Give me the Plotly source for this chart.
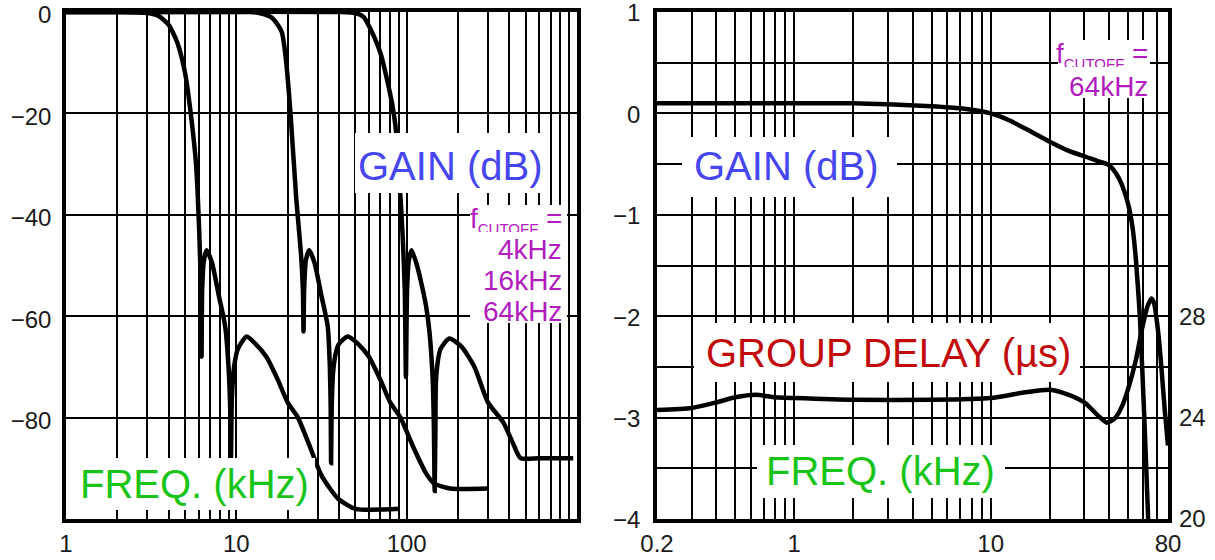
import math
import plotly.graph_objects as go

# ---------------- data ----------------
# Left panel: gain (dB) vs frequency (kHz) for three cutoff settings
f_4k = [1, 2, 3, 3.5, 4, 4.5, 5, 5.4, 5.8, 6.05, 6.2, 6.25, 6.3, 6.45, 6.7, 7.2, 7.9,
        8.6, 9.0, 9.2, 9.3, 9.42, 9.7, 10.2, 11.5, 13, 15, 17.5, 20, 23, 26.5, 31.7,
        39.6, 50, 91]
g_4k = [0, 0, -0.2, -0.8, -2.5, -6, -12, -20, -30, -43, -55, -68, -55, -49, -47, -49.5, -56,
        -62, -70, -78, -88, -76, -70, -66.5, -64, -65.5, -68, -72.5, -77, -80, -85, -91.5,
        -96, -98, -98]

f_16k = [1, 10, 12, 14, 16, 17.5, 18.5, 19.5, 20.8, 22.5, 24, 24.6, 24.8, 25.0, 25.6, 26.8,
         28.8, 31.6, 34.4, 35.4, 35.8, 36, 36.3, 37, 38.5, 40, 45, 52, 60, 70, 80, 92, 110,
         130, 145, 180, 300]
g_16k = [0, 0, 0, -0.3, -1, -2.5, -4, -9, -20, -37, -48, -55, -63, -55, -49, -47,
         -49.5, -56, -62, -70, -78, -89, -78, -71, -67, -65.5, -64, -65.5, -68, -72.5, -77, -80, -86,
         -91, -93, -94, -94]

f_64k = [1, 40, 50, 56, 61.6, 70, 77.5, 82, 86, 91.6, 95, 97.5, 99, 100.5, 103, 107, 115, 121,
         130, 136, 142, 144.5, 146, 147.5, 149, 158, 178, 210, 250, 300, 370, 420, 466, 600, 950]
g_64k = [0, 0, -0.2, -1, -3.5, -8, -14, -18, -22.6, -35.6, -45, -55, -72, -55, -49, -47, -50, -53,
         -58, -63, -72, -82, -94.5, -82, -72, -66.5, -64.4, -66, -70, -77, -81, -85, -88, -88, -88]

# Right panel: gain (dB) and group delay (us) vs frequency (kHz), fcutoff = 64kHz
f_gain = [0.2, 0.5, 1, 2, 3, 5, 7, 10, 12.5, 15, 20, 25, 30.7, 35, 39.2, 42, 45, 48, 50.8,
          53, 55, 57.5, 60.6, 63.4]
gain = [0.1, 0.1, 0.1, 0.1, 0.09, 0.07, 0.05, 0.0, -0.07, -0.15, -0.28, -0.37, -0.43, -0.47,
        -0.5, -0.55, -0.64, -0.77, -0.94, -1.15, -1.46, -2.0, -3.0, -4.0]

f_delay = [0.2, 0.3, 0.4, 0.5, 0.64, 0.8, 1, 2, 5, 10, 15, 20, 25, 30, 35, 39, 43, 47, 50,
           55, 59, 63, 66, 68, 71, 74, 77, 80]
delay = [24.3, 24.38, 24.6, 24.8, 24.9, 24.8, 24.77, 24.7, 24.7, 24.77, 25.0, 25.1, 24.9, 24.6,
         24.1, 23.8, 23.98, 24.5, 25.1, 26.3, 27.5, 28.4, 28.7, 28.5, 27.5, 26.0, 24.3, 22.9]

# Axis ticks
left_x_grid = [1, 2, 3, 4, 5, 6, 7, 8, 9, 10, 20, 30, 40, 50, 60, 70, 80, 90,
               100, 200, 300, 400, 500, 600, 700, 800, 900]
left_x_labels = {1: "1", 10: "10", 100: "100"}
left_y_ticks = [0, -20, -40, -60, -80]
right_x_grid = [0.2, 0.3, 0.4, 0.5, 0.6, 0.7, 0.8, 0.9, 1, 2, 3, 4, 5, 6, 7, 8, 9,
                10, 20, 30, 40, 50, 60, 70, 80]
right_x_labels = {0.2: "0.2", 1: "1", 10: "10", 80: "80"}
right_y_grid = [1, 0.5, 0, -0.5, -1, -1.5, -2, -2.5, -3, -3.5, -4]
right_y_labels = {1: "1", 0: "0", -1: "−1", -2: "−2", -3: "−3", -4: "−4"}
delay_ticks = [20, 24, 28]

# ---------------- styling ----------------
FONT = "Liberation Sans, Arial, Helvetica, sans-serif"
BLUE, GREEN, RED, MAG = "#4646f0", "#18c418", "#c20a0a", "#b21cbe"
W, H = 1215, 560
ML, MR, MT, MB = 66, 47, 12, 41
PW = W - ML - MR
PANEL_W = 511
PH = H - MT - MB
LX0, RX0 = 66, 657

line = dict(color="black", width=4.5, shape="spline", smoothing=0.6)

fig = go.Figure()
fig.add_trace(go.Scatter(x=f_4k, y=g_4k, mode="lines", line=line, xaxis="x", yaxis="y"))
fig.add_trace(go.Scatter(x=f_16k, y=g_16k, mode="lines", line=line, xaxis="x", yaxis="y"))
fig.add_trace(go.Scatter(x=f_64k, y=g_64k, mode="lines", line=line, xaxis="x", yaxis="y"))
fig.add_trace(go.Scatter(x=f_gain, y=gain, mode="lines", line=line, xaxis="x2", yaxis="y2"))
fig.add_trace(go.Scatter(x=f_delay, y=delay, mode="lines", line=line, xaxis="x2", yaxis="y3"))

tickfont = dict(family=FONT, size=24, color="#1a1a1a")
axis_common = dict(showgrid=True, gridcolor="black", gridwidth=2.2, showline=True,
                   linecolor="black", linewidth=3.5, mirror=True, ticks="", zeroline=False,
                   automargin=False, ticklabeloverflow="allow", tickfont=tickfont)

fig.update_layout(
    width=W, height=H, showlegend=False,
    paper_bgcolor="white", plot_bgcolor="white",
    margin=dict(l=ML, r=MR, t=MT, b=MB, autoexpand=False),
    xaxis=dict(type="log", range=[0, 3], domain=[0, PANEL_W / PW], anchor="y",
               tickvals=left_x_grid, ticktext=[left_x_labels.get(v, "") for v in left_x_grid],
               ticklabelstandoff=0, **axis_common),
    yaxis=dict(range=[-100, 0], anchor="x", tickvals=left_y_ticks, ticklabelstandoff=6,
               ticklabelshift=3, **axis_common),
    xaxis2=dict(type="log", range=[math.log10(0.2), math.log10(80)],
                domain=[(RX0 - ML) / PW, 1], anchor="y2",
                tickvals=right_x_grid, ticktext=[right_x_labels.get(v, "") for v in right_x_grid],
                ticklabelstandoff=0, **axis_common),
    yaxis2=dict(range=[-4, 1], anchor="x2", tickvals=right_y_grid,
                ticktext=[right_y_labels.get(v, "") for v in right_y_grid],
                ticklabelstandoff=8, ticklabelshift=1, **axis_common),
    yaxis3=dict(range=[20, 40], overlaying="y2", anchor="x2", side="right",
                tickvals=delay_ticks, showgrid=False, showline=False, zeroline=False,
                ticks="", ticklabelstandoff=10, automargin=False,
                ticklabeloverflow="allow", tickfont=tickfont),
)

def fx(px, x0):
    return (px - x0) / PANEL_W

def fy(py):
    return (MT + PH - py) / PH

def box(panel, x0, x1, y0, y1):
    x0p = LX0 if panel == 1 else RX0
    xr = "x domain" if panel == 1 else "x2 domain"
    yr = "y domain" if panel == 1 else "y2 domain"
    fig.add_shape(type="rect", xref=xr, yref=yr, x0=fx(x0, x0p), x1=fx(x1, x0p),
                  y0=fy(y1), y1=fy(y0), fillcolor="white", line=dict(width=0), layer="above")

def label(panel, text, px, py, color, size, xanchor="center", height=None):
    x0p = LX0 if panel == 1 else RX0
    xr = "x domain" if panel == 1 else "x2 domain"
    yr = "y domain" if panel == 1 else "y2 domain"
    kw = {}
    if height:
        kw["height"] = height
    fig.add_annotation(xref=xr, yref=yr, x=fx(px, x0p), y=fy(py), text=text, showarrow=False,
                       xanchor=xanchor, yanchor="middle", borderpad=0,
                       font=dict(family=FONT, size=size, color=color), **kw)

FCUT = "f<sub><span style='font-size:15px'>CUTOFF</span></sub> ="

# Left panel labels
box(1, 355, 548, 133, 193)
label(1, "GAIN (dB)", 450, 166, BLUE, 40)
box(1, 70, 315, 458, 510)
label(1, "FREQ. (kHz)", 194, 484, GREEN, 40)
box(1, 470, 567, 205, 323)
label(1, FCUT, 563, 220, MAG, 28, "right", 24)
label(1, "4kHz", 563, 249, MAG, 28, "right", 24)
label(1, "16kHz", 563, 280, MAG, 28, "right", 24)
label(1, "64kHz", 563, 311, MAG, 28, "right", 24)

# Right panel labels
box(2, 682, 897, 137, 197)
label(2, "GAIN (dB)", 786, 166, BLUE, 40)
box(2, 694, 1080, 323, 382)
label(2, "GROUP DELAY (µs)", 888, 353, RED, 40)
box(2, 757, 1005, 445, 498)
label(2, "FREQ. (kHz)", 880, 471, GREEN, 40)
box(2, 1058, 1150, 40, 98)
label(2, FCUT, 1149, 55, MAG, 28, "right", 24)
label(2, "64kHz", 1149, 86, MAG, 28, "right", 24)

fig.write_html("out.html", config={"displayModeBar": False},
               post_script="document.body.style.margin='0';")
